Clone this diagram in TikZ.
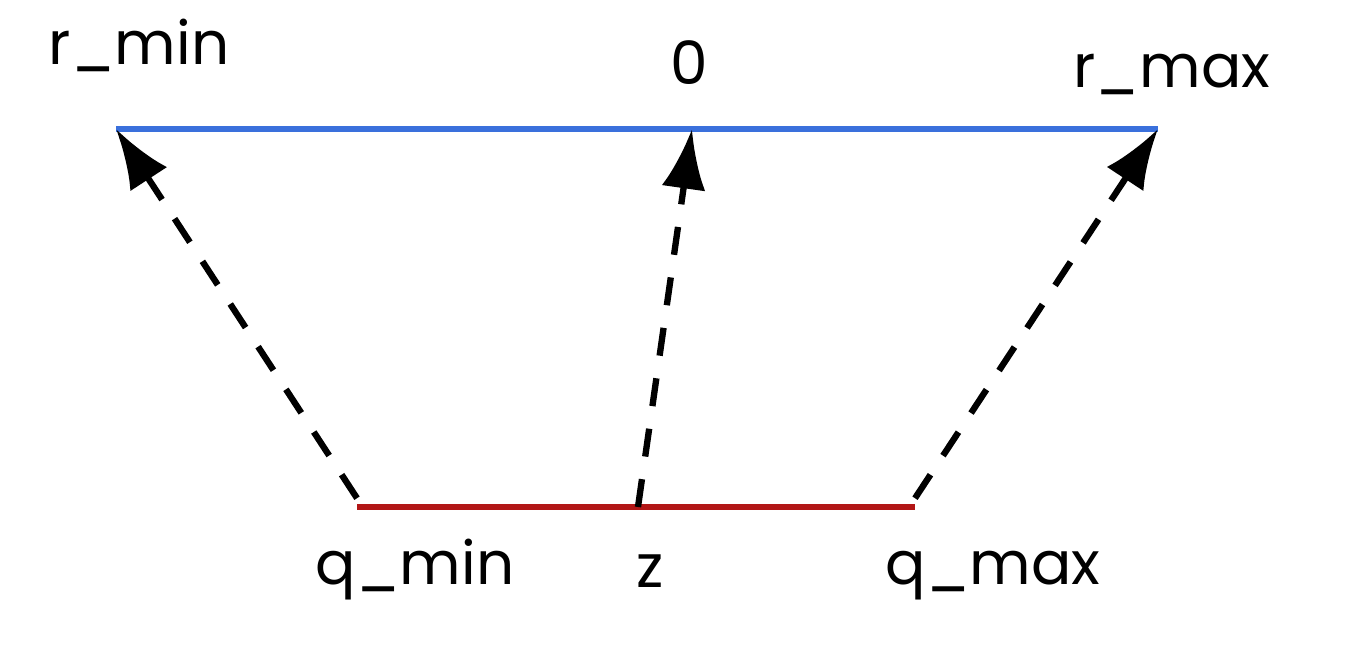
\documentclass[tikz,border=0pt]{standalone}
\usepackage{fontspec}
\setmainfont{Poppins}
\usetikzlibrary{arrows.meta}
\definecolor{rangeblue}{RGB}{58,112,220}
\definecolor{quantred}{RGB}{178,22,22}
\tikzset{
  maparrow/.style={line width=3.6pt, dash pattern=on 16pt off 13pt, -{Latex[length=34pt,width=25pt]}},
  lbl/.style={anchor=base, inner sep=0pt, font=\fontsize{34}{40}\selectfont}
}
\begin{document}
\begin{tikzpicture}[x=0.02cm, y=0.02cm]
        \useasboundingbox (0,0) rectangle (1356,662) ;
        \def\ry{533}
        \def\qy{155}

        % real range and quantized range
        \coordinate (rmin) at (116,\ry) ;
        \coordinate (rzero) at (692,\ry) ;
        \coordinate (rmax) at (1158,\ry) ;
        \coordinate (qmin) at (357,\qy) ;
        \coordinate (qz) at (638,\qy) ;
        \coordinate (qmax) at (915,\qy) ;

        \draw [rangeblue, line width=3pt] (rmin) -- (rmax) ;
        \draw [quantred, line width=3.6pt] (qmin) -- (qmax) ;

        \draw [maparrow] ([yshift=5pt]qmin) -- (rmin) ;
        \draw [maparrow] (qz) -- (rzero) ;
        \draw [maparrow] ([yshift=5pt]qmax) -- (rmax) ;

        \node [lbl] (lrmin) at (139,597) {r\_min} ;
        \node [lbl] (lzero) at (689,577) {0} ;
        \node [lbl] (lrmax) at (1172,574) {r\_max} ;
        \node [lbl] (lqmin) at (415,77) {q\_min} ;
        \node [lbl] (lz) at (650,74) {z} ;
        \node [lbl] (lqmax) at (993,77) {q\_max} ;
      \end{tikzpicture}
\end{document}
